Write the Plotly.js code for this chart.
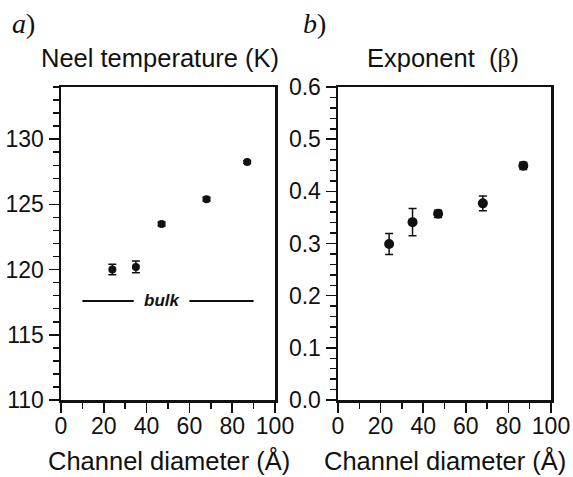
<!DOCTYPE html>
<html>
<head>
<meta charset="utf-8">
<script src="https://cdn.plot.ly/plotly-3.0.1.min.js"></script>
<style>html,body{margin:0;padding:0;background:#fff;}#chart{width:573px;height:477px;}</style>
</head>
<body>
<div id="chart"></div>
<script>
// ---- data ----
const channelDiameter = [24, 35, 47, 68, 87];
const neelTemp = [120.0, 120.2, 123.5, 125.4, 128.25];
const neelErr = [0.4, 0.45, 0.15, 0.15, 0.1];
const betaExp = [0.299, 0.341, 0.357, 0.377, 0.449];
const betaErr = [0.02, 0.026, 0.007, 0.014, 0.007];
const bulkTemp = 117.6;
const bulkSegX = [10, 34, null, 60, 90];
const bulkSegY = [bulkTemp, bulkTemp, null, bulkTemp, bulkTemp];
const xTickVals = [0, 20, 40, 60, 80, 100];
const yTickValsA = [110, 115, 120, 125, 130];
const yTickValsB = [0, 0.1, 0.2, 0.3, 0.4, 0.5, 0.6];
const yTickTextB = ['0.0', '0.1', '0.2', '0.3', '0.4', '0.5', '0.6'];

const W = 573, H = 477;
const px = v => v / W;
const py = v => (H - v) / H;
const FONT = 'Liberation Sans, Arial, Helvetica, sans-serif';
const INK = '#111';

const errStyle = {type: 'data', visible: true, color: INK, thickness: 1.5, width: 4};

const traces = [
  {x: channelDiameter, y: neelTemp, type: 'scatter', mode: 'markers',
   marker: {color: INK, size: 8, symbol: 'circle'},
   error_y: Object.assign({array: neelErr}, errStyle), xaxis: 'x', yaxis: 'y', showlegend: false, hoverinfo: 'skip'},
  {x: bulkSegX, y: bulkSegY, type: 'scatter', mode: 'lines',
   line: {color: INK, width: 2}, connectgaps: false, xaxis: 'x', yaxis: 'y', showlegend: false, hoverinfo: 'skip'},
  {x: channelDiameter, y: betaExp, type: 'scatter', mode: 'markers',
   marker: {color: INK, size: 10, symbol: 'circle'},
   error_y: Object.assign({array: betaErr}, errStyle), xaxis: 'x2', yaxis: 'y2', showlegend: false, hoverinfo: 'skip'}
];

function xAxis(domain, anchor) {
  return {
    domain: domain, anchor: anchor, range: [0, 100],
    tickvals: xTickVals, ticks: 'outside', ticklen: 10, tickwidth: 1.5, tickcolor: INK,
    ticklabelstandoff: -6,
    minor: {dtick: 10, tick0: 0, ticks: 'outside', ticklen: 6, tickwidth: 1.5, tickcolor: INK, showgrid: false},
    showline: true, linewidth: 2.5, linecolor: INK, mirror: true,
    showgrid: false, zeroline: false,
    tickfont: {family: FONT, size: 23, color: INK}
  };
}
function yAxis(domain, anchor, range, tickvals, ticktext, minorDtick) {
  const a = {
    domain: domain, anchor: anchor, range: range,
    tickvals: tickvals, ticks: 'outside', ticklen: 10, tickwidth: 1.5, tickcolor: INK,
    minor: {dtick: minorDtick, tick0: range[0], ticks: 'outside', ticklen: 6, tickwidth: 1.5, tickcolor: INK, showgrid: false},
    showline: true, linewidth: 2.5, linecolor: INK, mirror: true,
    showgrid: false, zeroline: false,
    tickfont: {family: FONT, size: 23, color: INK}
  };
  if (ticktext) a.ticktext = ticktext;
  return a;
}

const yDom = [py(400), py(87)];

const layout = {
  width: W, height: H,
  margin: {l: 0, r: 0, t: 0, b: 0},
  paper_bgcolor: '#fff', plot_bgcolor: '#fff',
  showlegend: false,
  xaxis: xAxis([px(61), px(275)], 'y'),
  yaxis: yAxis(yDom, 'x', [110, 134], yTickValsA, null, 1),
  xaxis2: xAxis([px(338), px(551)], 'y2'),
  yaxis2: yAxis(yDom, 'x2', [0, 0.6001], yTickValsB, yTickTextB, 0.02),
  annotations: [
    {text: '<i>a</i>)', xref: 'paper', yref: 'paper', x: px(10), y: py(24), xanchor: 'left', yanchor: 'middle',
     showarrow: false, font: {family: 'Liberation Serif, Times New Roman, serif', size: 28, color: INK}},
    {text: '<i>b</i>)', xref: 'paper', yref: 'paper', x: px(301), y: py(24), xanchor: 'left', yanchor: 'middle',
     showarrow: false, font: {family: 'Liberation Serif, Times New Roman, serif', size: 28, color: INK}},
    {text: 'Neel temperature (K)', xref: 'paper', yref: 'paper', x: px(160), y: py(58), xanchor: 'center', yanchor: 'middle',
     showarrow: false, font: {family: FONT, size: 25.5, color: INK}},
    {text: 'Exponent  (<span style="font-family:Liberation Serif, serif">β</span>)', xref: 'paper', yref: 'paper', x: px(443), y: py(58), xanchor: 'center', yanchor: 'middle',
     showarrow: false, font: {family: FONT, size: 25.5, color: INK}},
    {text: 'Channel diameter (Å)', xref: 'paper', yref: 'paper', x: px(169), y: py(460), xanchor: 'center', yanchor: 'middle',
     showarrow: false, font: {family: FONT, size: 25.5, color: INK}},
    {text: 'Channel diameter (Å)', xref: 'paper', yref: 'paper', x: px(445), y: py(460), xanchor: 'center', yanchor: 'middle',
     showarrow: false, font: {family: FONT, size: 25.5, color: INK}},
    {text: '<b><i>bulk</i></b>', xref: 'x', yref: 'y', x: 47.3, y: bulkTemp, xanchor: 'center', yanchor: 'middle',
     showarrow: false, font: {family: FONT, size: 17, color: INK}}
  ]
};

Plotly.newPlot('chart', traces, layout, {staticPlot: true, displayModeBar: false});
</script>
</body>
</html>
